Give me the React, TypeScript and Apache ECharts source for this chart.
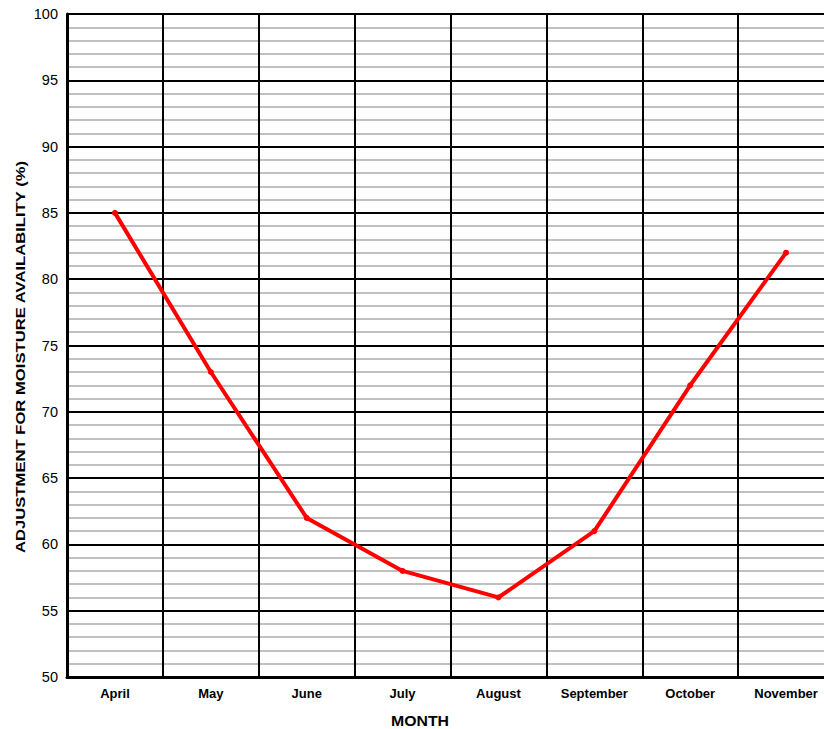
import React, { useEffect, useRef } from "react";
import * as echarts from "echarts";

const months = ["April", "May", "June", "July", "August", "September", "October", "November"];
const adjustment = [85, 73, 62, 58, 56, 61, 72, 82];
const yMin = 50;
const yMax = 100;
const yInterval = 5;
const xTitle = "MONTH";
const yTitle = "ADJUSTMENT FOR MOISTURE AVAILABILITY (%)";

export default function App() {
  const ref = useRef<HTMLDivElement>(null);
  useEffect(() => {
    if (!ref.current) return;
    const chart = echarts.init(ref.current, null, { renderer: "svg" });
    chart.setOption({
      animation: false,
      backgroundColor: "#ffffff",
      grid: { left: 67, top: 14, right: -10, bottom: 52, containLabel: false, outerBoundsMode: "none" },
      xAxis: {
        type: "category",
        data: months,
        boundaryGap: true,
        axisLine: { show: true, lineStyle: { color: "#000", width: 3 } },
        axisTick: { show: false },
        axisLabel: { fontFamily: "Liberation Sans", fontWeight: "bold", fontSize: 13, color: "#000", margin: 10, interval: 0 },
        splitLine: { show: true, interval: 0, lineStyle: { color: "#000", width: 2 } },
      },
      yAxis: {
        type: "value",
        min: yMin,
        max: yMax,
        interval: yInterval,
        axisLine: { show: true, lineStyle: { color: "#000", width: 3 } },
        axisTick: { show: false },
        axisLabel: { fontFamily: "Liberation Sans", fontSize: 14.5, color: "#000", margin: 9 },
        splitLine: { show: true, lineStyle: { color: "#000", width: 2 } },
        minorTick: { show: false, splitNumber: 5 },
        minorSplitLine: { show: true, lineStyle: { color: "#c0c0c0", width: 2 } },
      },
      graphic: [
        {
          type: "text",
          x: 420,
          y: 721,
          scaleX: 1.13,
          style: {
            text: xTitle,
            fontFamily: "Liberation Sans",
            fontWeight: "bold",
            fontSize: 14,
            fill: "#000",
            textAlign: "center",
            textVerticalAlign: "middle",
          },
        },
        {
          type: "text",
          x: 20,
          y: 357,
          rotation: Math.PI / 2,
          scaleX: 1.28,
          style: {
            text: yTitle,
            fontFamily: "Liberation Sans",
            fontWeight: "bold",
            fontSize: 13,
            fill: "#000",
            textAlign: "center",
            textVerticalAlign: "middle",
          },
        },
      ],
      series: [
        {
          type: "line",
          data: adjustment,
          symbol: "circle",
          symbolSize: 6,
          lineStyle: { color: "#ff0000", width: 4 },
          itemStyle: { color: "#ff0000" },
          z: 5,
        },
      ],
    });
    return () => chart.dispose();
  }, []);
  return <div ref={ref} style={{ position: "fixed", left: 0, top: 0, width: 824, height: 729 }} />;
}
